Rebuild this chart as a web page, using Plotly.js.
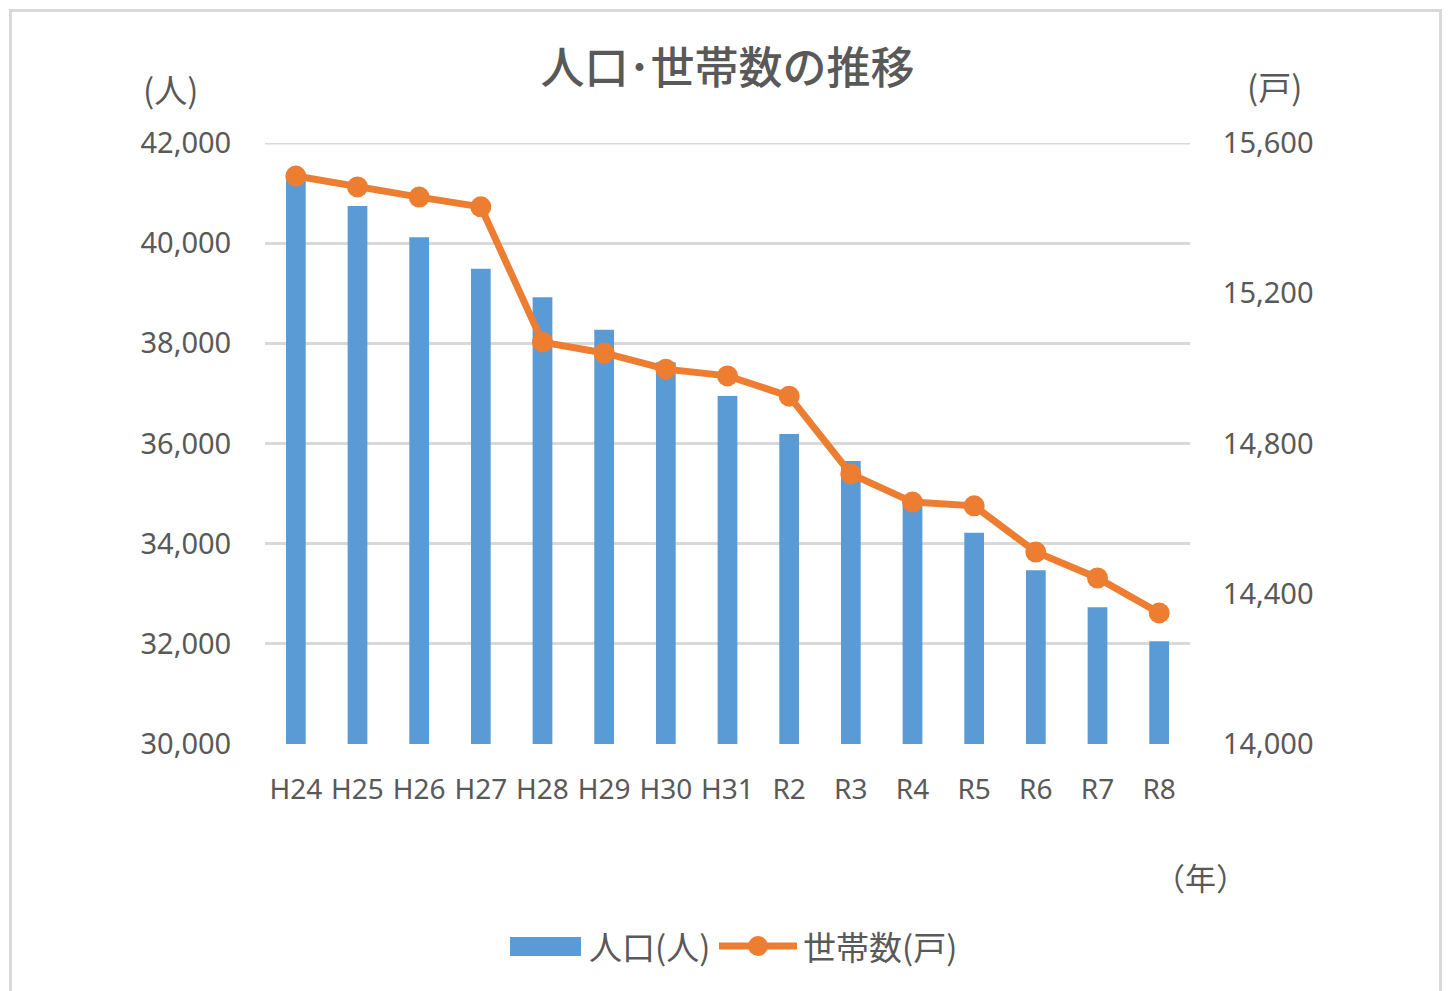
<!DOCTYPE html>
<html>
<head>
<meta charset="utf-8">
<script src="https://cdn.plot.ly/plotly-3.0.1.min.js"></script>
<style>
html,body{margin:0;padding:0;background:#fff;overflow:hidden;}
#frame{position:absolute;left:9px;top:9px;width:1433px;height:1010px;border:3px solid #d9d9d9;box-sizing:border-box;}
#chart{position:absolute;left:0;top:0;width:1451px;height:991px;}
</style>
</head>
<body>
<div id="frame"></div>
<div id="chart"></div>
<script>
const categories = ["H24","H25","H26","H27","H28","H29","H30","H31","R2","R3","R4","R5","R6","R7","R8"];
const population = [41350, 40740, 40120, 39490, 38920, 38270, 37620, 36950, 36190, 35650, 34880, 34220, 33470, 32730, 32050];
const households = [15512, 15483, 15456, 15430, 15070, 15041, 14998, 14980, 14926, 14719, 14644, 14634, 14511, 14442, 14349];
const leftTicks = [30000, 32000, 34000, 36000, 38000, 40000, 42000];
const rightTicks = [14000, 14400, 14800, 15200, 15600];
const seriesNames = ["人口(人)", "世帯数(戸)"];

const gray = "#595959";
const blue = "#5B9BD5";
const orange = "#ED7D31";
const gridColor = "#d9d9d9";
const fontFam = "'Noto Sans', 'Noto Sans CJK JP', sans-serif";
const cjk = "'Noto Sans CJK JP', 'Noto Sans', sans-serif";

// plot area in pixels (for converting legend decoration positions to paper coords)
const PL = 265, PR = 1190, PT = 143, PB = 744;
const px = v => (v - PL) / (PR - PL);
const py = v => (PB - v) / (PB - PT);

const traces = [
  {
    type: "bar",
    name: seriesNames[0],
    x: categories,
    y: population,
    marker: {color: blue},
    yaxis: "y",
    showlegend: false
  },
  {
    type: "scatter",
    mode: "lines+markers",
    name: seriesNames[1],
    x: categories,
    y: households,
    line: {color: orange, width: 7},
    marker: {color: orange, size: 21},
    yaxis: "y2",
    showlegend: false
  }
];

const layout = {
  width: 1451,
  height: 991,
  margin: {l: PL, r: 1451 - PR, t: PT, b: 991 - PB},
  paper_bgcolor: "rgba(0,0,0,0)",
  plot_bgcolor: "rgba(0,0,0,0)",
  font: {family: fontFam, color: gray, size: 29},
  title: {
    text: "人口･世帯数の推移",
    font: {family: cjk, size: 44, color: gray, weight: 500},
    x: 0.5, xref: "paper", xanchor: "center",
    y: 0.931, yref: "container", yanchor: "middle"
  },
  bargap: 0.68,
  xaxis: {
    type: "category",
    range: [-0.5, categories.length - 0.5],
    showgrid: false,
    zeroline: false,
    showline: false,
    ticks: "outside",
    ticklen: 20,
    tickcolor: "rgba(0,0,0,0)",
    tickfont: {size: 28, color: gray, family: fontFam}
  },
  yaxis: {
    range: [30000, 42000],
    tickvals: leftTicks,
    ticktext: leftTicks.map(v => v.toLocaleString("en-US")),
    showgrid: true,
    gridcolor: gridColor,
    gridwidth: 3,
    zeroline: false,
    showline: false,
    ticks: "outside",
    ticklen: 27,
    tickcolor: "rgba(0,0,0,0)",
    tickfont: {size: 29, color: gray, family: fontFam}
  },
  yaxis2: {
    range: [14000, 15600],
    tickvals: rightTicks,
    ticktext: rightTicks.map(v => v.toLocaleString("en-US")),
    overlaying: "y",
    side: "right",
    showgrid: false,
    zeroline: false,
    showline: false,
    ticks: "outside",
    ticklen: 26,
    tickcolor: "rgba(0,0,0,0)",
    tickfont: {size: 29, color: gray, family: fontFam}
  },
  showlegend: false,
  shapes: [
    // top gridline (Plotly drops the grid line lying on the plot edge)
    {type: "line", xref: "paper", yref: "y", x0: 0, x1: 1, y0: leftTicks[leftTicks.length - 1], y1: leftTicks[leftTicks.length - 1],
     line: {color: gridColor, width: 3}, layer: "below"},
    // legend: bar swatch
    {type: "rect", xref: "paper", yref: "paper", x0: px(510), x1: px(581), y0: py(956), y1: py(937),
     fillcolor: blue, line: {width: 0}},
    // legend: line swatch
    {type: "line", xref: "paper", yref: "paper", x0: px(719), x1: px(797), y0: py(946), y1: py(946),
     line: {color: orange, width: 7}},
    {type: "circle", xref: "paper", yref: "paper", x0: px(748), x1: px(768), y0: py(956), y1: py(936),
     fillcolor: orange, line: {width: 0}}
  ],
  annotations: [
    {text: "(人)", xref: "paper", yref: "paper", x: px(170), y: py(89), showarrow: false,
     xanchor: "center", yanchor: "middle", font: {family: cjk, size: 33, color: gray}},
    {text: "(戸)", xref: "paper", yref: "paper", x: px(1274), y: py(86), showarrow: false,
     xanchor: "center", yanchor: "middle", font: {family: cjk, size: 33, color: gray}},
    {text: "（年）", xref: "paper", yref: "paper", x: px(1200), y: py(876), showarrow: false,
     xanchor: "center", yanchor: "middle", font: {family: cjk, size: 31, color: gray}},
    {text: seriesNames[0], xref: "paper", yref: "paper", x: px(587), y: py(946), showarrow: false,
     xanchor: "left", yanchor: "middle", font: {family: cjk, size: 33, color: gray}},
    {text: seriesNames[1], xref: "paper", yref: "paper", x: px(801), y: py(946), showarrow: false,
     xanchor: "left", yanchor: "middle", font: {family: cjk, size: 33, color: gray}}
  ]
};

Plotly.newPlot("chart", traces, layout, {displayModeBar: false, staticPlot: true});
</script>
</body>
</html>
